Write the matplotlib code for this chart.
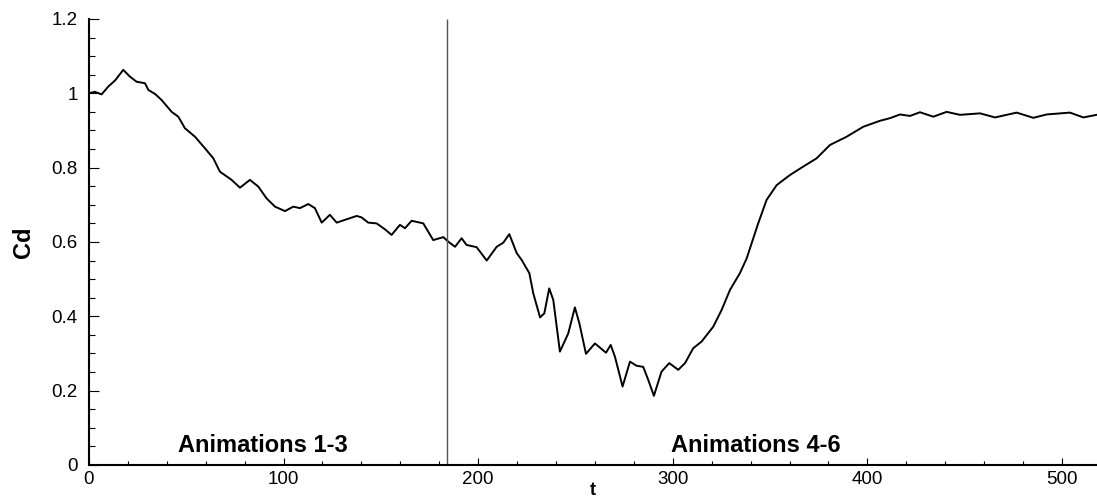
import matplotlib
matplotlib.use("Agg")
import matplotlib.pyplot as plt
from matplotlib.ticker import MultipleLocator, FormatStrFormatter

plt.rcParams['font.family'] = ['Liberation Sans', 'DejaVu Sans']

# drag coefficient
t = [0, 3, 6.5, 9.9, 13.5, 17.6, 21, 24.5, 28.8, 30.5, 34, 37.3, 42.5, 45.9, 49.3,
     54.5, 59.6, 63.9, 67.3, 73.3, 77.6, 82.7, 87.0, 91.3, 95.6, 100.7, 105,
     108.4, 112.7, 116.1, 119.6, 123.8, 127.3, 132.4, 137.6, 140.1, 143.5,
     147.8, 152.1, 155.5, 159.8, 162.4, 165.8, 171.8, 176.9, 182.1, 184.6,
     188.1, 191.5, 194, 199.2, 204.4, 209.5, 212.9, 216, 219.8, 222.3, 226.3,
     228.3, 231.8, 234, 236.5, 238.6, 242, 246.3, 249.7, 252, 255.4, 260,
     265.7, 268.1, 270.3, 274.2, 278, 281.4, 284.8, 287.4, 290.3, 294.2,
     298.2, 302.8, 306.3, 310.5, 314.8, 320.8, 325.1, 329.4, 334.5, 338,
     340.5, 343.9, 348.2, 353.4, 360.2, 367.1, 373.9, 380.8, 389.3, 397.9,
     406.5, 411.6, 416.8, 421.9, 427, 433.9, 440.7, 447.6, 457.9, 465.6,
     476.7, 485.3, 492.1, 504.1, 511, 517.8]
cd = [1.0, 1.004, 0.997, 1.018, 1.035, 1.063, 1.045, 1.031, 1.027, 1.009, 0.998,
      0.982, 0.950, 0.937, 0.906, 0.883, 0.852, 0.825, 0.789, 0.767, 0.746,
      0.767, 0.749, 0.717, 0.695, 0.683, 0.695, 0.691, 0.702, 0.691, 0.652,
      0.673, 0.652, 0.661, 0.670, 0.666, 0.652, 0.650, 0.634, 0.619, 0.646,
      0.637, 0.657, 0.650, 0.605, 0.613, 0.601, 0.587, 0.610, 0.592, 0.586,
      0.550, 0.587, 0.598, 0.621, 0.570, 0.552, 0.516, 0.462, 0.397, 0.408,
      0.475, 0.444, 0.305, 0.354, 0.424, 0.381, 0.299, 0.327, 0.302, 0.323,
      0.291, 0.211, 0.278, 0.267, 0.264, 0.229, 0.186, 0.251, 0.274, 0.256,
      0.274, 0.314, 0.332, 0.372, 0.417, 0.471, 0.516, 0.556, 0.596, 0.650,
      0.713, 0.753, 0.780, 0.803, 0.825, 0.861, 0.883, 0.910, 0.926, 0.933,
      0.943, 0.939, 0.949, 0.937, 0.950, 0.942, 0.946, 0.935, 0.948, 0.934,
      0.943, 0.948, 0.935, 0.942]

split_t = 184
phase_labels = ["Animations 1-3", "Animations 4-6"]
phase_x = [89.4, 342.8]

fig = plt.figure(figsize=(10.97, 5.01), dpi=100)
ax = fig.add_axes([0.0811, 0.0719, 0.9189, 0.8903])

ax.plot(t, cd, color='black', lw=1.4)
ax.vlines(split_t, 0, 1.2, color='#555555', lw=1.0)

for label, x in zip(phase_labels, phase_x):
    ax.text(x, 0.036, label, ha='center', va='baseline',
            fontsize=17, fontweight='bold')

ax.set_xlim(0, 518)
ax.set_ylim(0, 1.2)

# only left and bottom axis, ticks pointing inwards
ax.spines['top'].set_visible(False)
ax.spines['right'].set_visible(False)
ax.spines['left'].set_linewidth(1.5)
ax.spines['bottom'].set_linewidth(1.5)

ax.xaxis.set_major_locator(MultipleLocator(100))
ax.xaxis.set_minor_locator(MultipleLocator(20))
ax.yaxis.set_major_locator(MultipleLocator(0.2))
ax.yaxis.set_minor_locator(MultipleLocator(0.05))
ax.yaxis.set_major_formatter(FormatStrFormatter('%g'))

ax.tick_params(axis='both', which='both', direction='in', width=0.8,
               labelsize=13.5)
ax.tick_params(axis='x', which='major', length=5, pad=4)
ax.tick_params(axis='x', which='minor', length=3)
ax.tick_params(axis='y', which='major', length=7, pad=8)
ax.tick_params(axis='y', which='minor', length=4)
ax.tick_params(top=False, right=False, which='both')

ax.set_xlabel('t', fontsize=13, fontweight='bold', labelpad=-4)
ax.set_ylabel('Cd', fontsize=17, fontweight='bold')
ax.yaxis.set_label_coords(-0.054, 0.5)

fig.savefig('out.png', dpi=100)
